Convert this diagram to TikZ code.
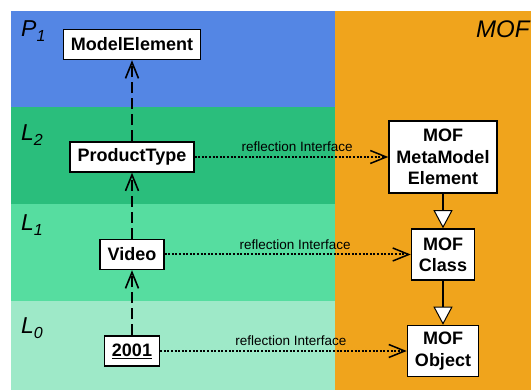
\documentclass[tikz,border=0pt]{standalone}
\usepackage{fontspec}
\setmainfont{Liberation Sans}
\usepackage{xcolor}
\usepackage{tikz}
\definecolor{pkgblue}{RGB}{84, 134, 228}
\definecolor{levelgreen}{RGB}{42, 190, 124}
\definecolor{levelmint}{RGB}{86, 221, 160}
\definecolor{levelpale}{RGB}{158, 233, 200}
\definecolor{moforange}{RGB}{240, 164, 28}
\usetikzlibrary{arrows.meta, positioning}

\newcommand{\levelname}[2]{\fontsize{23}{27}\selectfont\itshape #1\raisebox{-5pt}{\fontsize{16}{18}\selectfont #2}}

\begin{document}
\begin{tikzpicture}[
    x=10pt, y=10pt,
    elem/.style={rectangle, draw=black, fill=white, line width=1.5pt, align=center, font=\bfseries\fontsize{18}{21.3}\selectfont, minimum height=30pt, inner xsep=7.5pt, inner ysep=0pt},
    instof/.style={-{Straight Barb[length=16pt, width=13pt]}, line width=1.6pt, dash pattern=on 11pt off 5pt},
    reflect/.style={-{Straight Barb[length=16pt, width=13pt, line width=1.5pt]}, line width=2pt, dash pattern=on 2pt off 1.6pt},
    inherit/.style={-{Triangle[length=18pt, width=19pt, fill=white, line width=1pt]}, line width=1.6pt},
    iface/.style={above=3pt, pos=0.53, inner sep=1pt, font=\fontsize{13.5}{16}\selectfont}
]
    \useasboundingbox (0,0) rectangle (53.1,39.0);

    % Levels and MOF area
    \fill[pkgblue] (1.1,28.3) rectangle (33.5,37.9);
    \fill[levelgreen] (1.1,18.6) rectangle (33.5,28.3);
    \fill[levelmint] (1.1,8.9) rectangle (33.5,18.6);
    \fill[levelpale] (1.1,0) rectangle (33.5,8.9);
    \fill[moforange] (33.5,0) rectangle (53.1,37.9);

    \node[anchor=base west, inner sep=0pt] (p1) at (2.1,35.33) {\levelname{P}{1}};
    \node[anchor=base west, inner sep=0pt] (l2) at (2.1,24.9) {\levelname{L}{2}};
    \node[anchor=base west, inner sep=0pt] (l1) at (2.1,15.93) {\levelname{L}{1}};
    \node[anchor=base west, inner sep=0pt] (l0) at (2.1,5.67) {\levelname{L}{0}};
    \node[anchor=base west, inner sep=0pt, font=\fontsize{24}{28}\selectfont\itshape] (mof) at (47.6,35.27) {MOF};

    % Model side
    \node[elem] (modelelem) at (13.2,34.55) {ModelElement};
    \node[elem] (ptype) at (13.2,23.3) {ProductType};
    \node[elem] (video) at (13.2,13.55) {Video};
    \node[elem] (y2001) at (13.2,3.9) {\underline{2001}};

    % MOF side
    \node[elem, minimum width=108pt, minimum height=72pt] (mofelem) at (44.3,23.3) {MOF\\MetaModel\\Element};
    \node[elem, minimum height=51pt] (mofclass) at (44.3,13.55) {MOF\\Class};
    \node[elem, minimum height=51pt] (mofobj) at (44.3,3.9) {MOF\\Object};

    % Instance-of arrows
    \draw[instof] (ptype) -- (modelelem);
    \draw[instof] (video) -- (ptype);
    \draw[instof] (y2001) -- (video);

    % Reflection
    \draw[reflect] (ptype) -- node[iface] {reflection Interface} (mofelem);
    \draw[reflect] (video) -- node[iface] {reflection Interface} (mofclass);
    \draw[reflect] (y2001) -- node[iface] {reflection Interface} (mofobj);

    \draw[inherit] (mofelem) -- (mofclass);
    \draw[inherit] (mofclass) -- (mofobj);

\end{tikzpicture}
\end{document}
